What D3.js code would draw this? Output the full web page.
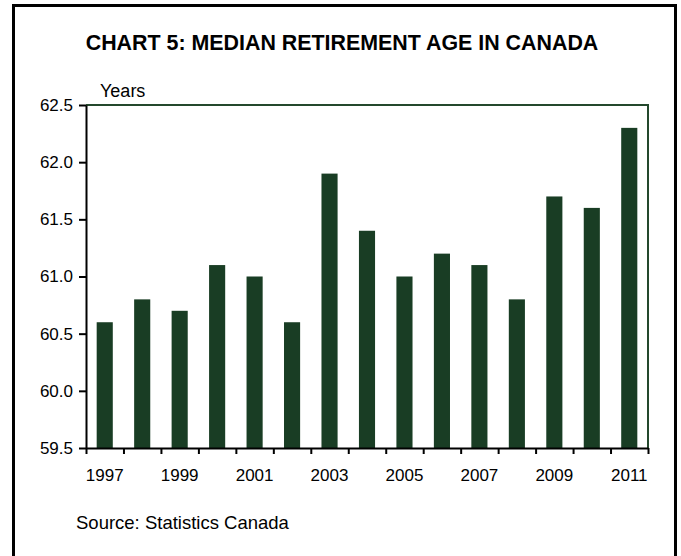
<!DOCTYPE html>
<html>
<head>
<meta charset="utf-8">
<script src="https://cdn.jsdelivr.net/npm/d3@7"></script>
<style>
  body { margin: 0; background: #fff; }
  text { font-family: "Liberation Sans", Arial, sans-serif; fill: #000; }
</style>
</head>
<body>
<svg id="canvas"></svg>
<script>
let years = ['1997', '1998', '1999', '2000', '2001', '2002', '2003', '2004',
             '2005', '2006', '2007', '2008', '2009', '2010', '2011']
let ages = [60.6, 60.8, 60.7, 61.1, 61.0, 60.6, 61.9, 61.4,
            61.0, 61.2, 61.1, 60.8, 61.7, 61.6, 62.3]
let yTicks = [59.5, 60.0, 60.5, 61.0, 61.5, 62.0, 62.5]
let labelYears = ['1997', '1999', '2001', '2003', '2005', '2007', '2009', '2011']

let width = 681
let height = 556
let plotLeft = 86
let plotRight = 648
let plotTop = 105
let plotBottom = 448

let barColor = '#193d24'

let canvas = d3.select('#canvas')
canvas.attr('width', width)
      .attr('height', height)

// outer frame
canvas.append('rect')
      .attr('x', 13.5)
      .attr('y', 5.5)
      .attr('width', 662)
      .attr('height', 600)
      .attr('fill', 'none')
      .attr('stroke', '#000')
      .attr('stroke-width', 3)

canvas.append('text')
      .attr('x', 342)
      .attr('y', 50)
      .attr('text-anchor', 'middle')
      .style('font-size', '21.4px')
      .style('font-weight', 'bold')
      .text('CHART 5: MEDIAN RETIREMENT AGE IN CANADA')

let xScale = d3.scaleBand()
               .domain(years)
               .range([plotLeft, plotRight])
               .paddingInner(0.57)
               .paddingOuter(0.285)

let yScale = d3.scaleLinear()
               .domain([59.5, 62.5])
               .range([plotBottom, plotTop])

// plot frame: top and right edges in green
canvas.append('path')
      .attr('d', 'M' + plotLeft + ',' + plotTop + 'H' + plotRight + 'V' + plotBottom)
      .attr('fill', 'none')
      .attr('stroke', '#24482d')
      .attr('stroke-width', 2)

canvas.selectAll('rect.bar')
      .data(ages)
      .enter()
      .append('rect')
      .attr('class', 'bar')
      .attr('x', (d, i) => xScale(years[i]))
      .attr('y', (d) => yScale(d))
      .attr('width', xScale.bandwidth())
      .attr('height', (d) => yScale(59.5) - yScale(d))
      .attr('fill', barColor)

let yAxis = d3.axisLeft(yScale)
              .tickValues(yTicks)
              .tickFormat(d3.format('.1f'))
              .tickSize(7)
              .tickSizeOuter(0)
              .tickPadding(6)

let gy = canvas.append('g')
      .attr('transform', 'translate(' + plotLeft + ',0)')
      .call(yAxis)

gy.attr('font-family', null).attr('font-size', null)
gy.selectAll('text').style('font-size', '17px')
gy.selectAll('line, path').attr('stroke', '#000').attr('stroke-width', 2)

// x ticks sit on the category boundaries
let xLine = d3.scaleLinear()
              .domain([0, years.length])
              .range([plotLeft, plotRight])

let xAxis = d3.axisBottom(xLine)
              .tickValues(d3.range(years.length + 1))
              .tickFormat('')
              .tickSize(6)
              .tickSizeOuter(0)

let gx = canvas.append('g')
      .attr('transform', 'translate(0,' + plotBottom + ')')
      .call(xAxis)

gx.selectAll('line, path').attr('stroke', '#000').attr('stroke-width', 2)

canvas.selectAll('text.year')
      .data(labelYears)
      .enter()
      .append('text')
      .attr('class', 'year')
      .attr('x', (d) => xScale(d) + xScale.bandwidth() / 2)
      .attr('y', 481)
      .attr('text-anchor', 'middle')
      .style('font-size', '17px')
      .text((d) => d)

canvas.append('text')
      .attr('x', 100)
      .attr('y', 97)
      .style('font-size', '18px')
      .text('Years')

canvas.append('text')
      .attr('x', 76)
      .attr('y', 529)
      .style('font-size', '18.5px')
      .text('Source: Statistics Canada')
</script>
</body>
</html>
